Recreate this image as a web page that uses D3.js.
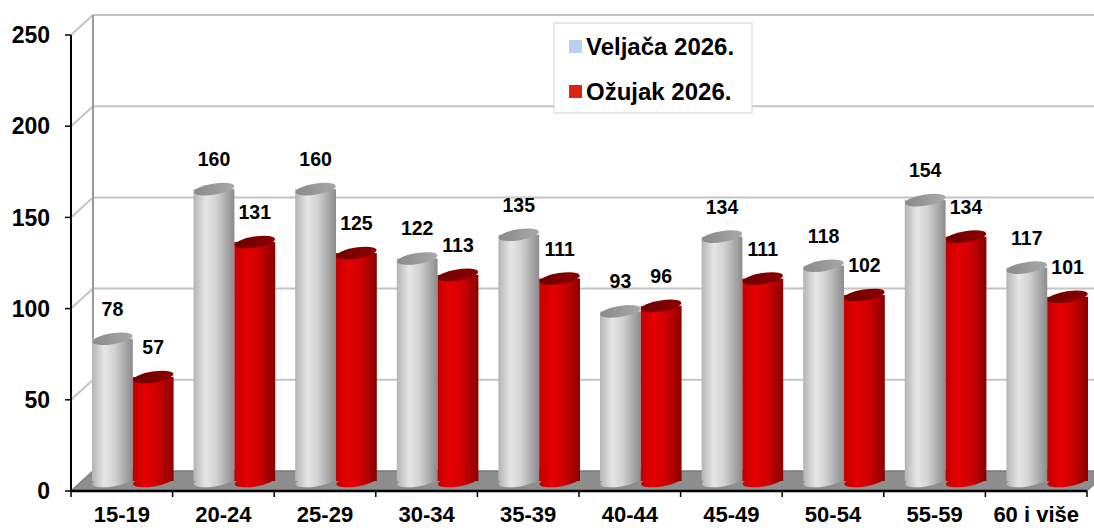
<!DOCTYPE html>
<html>
<head>
<meta charset="utf-8">
<script src="https://cdn.jsdelivr.net/npm/d3@7"></script>
<style>
  body { margin: 0; background: #fff; }
  svg text { font-family: "Liberation Sans", Arial, sans-serif; font-weight: bold; fill: #000; }
</style>
</head>
<body>
<div id="chart"></div>
<script>
// data
const categories = ["15-19","20-24","25-29","30-34","35-39","40-44","45-49","50-54","55-59","60 i više"];
const series = ["Veljača 2026.","Ožujak 2026."];
const veljaca = [78,160,160,122,135,93,134,118,154,117];
const ozujak  = [57,131,125,113,111,96,111,102,134,101];
const yTicks = [0,50,100,150,200,250];

const width = 1094, height = 528;
const depthX = 22, depthY = -20;   // 3d offset of back wall

const svg = d3.select("#chart").append("svg")
  .attr("width", width).attr("height", height);

const x = d3.scaleBand().domain(categories).range([71, 1087]).paddingInner(0).paddingOuter(0);
const xs = d3.scaleBand().domain(series).range([0, x.bandwidth()]).paddingInner(0).paddingOuter(0.245);
const y = d3.scaleLinear().domain([0, 250]).range([491, 35]);

// gradients
const defs = svg.append("defs");
function grad(id, stops) {
  const g = defs.append("linearGradient").attr("id", id).attr("x1", 0).attr("x2", 1).attr("y1", 0).attr("y2", 0);
  stops.forEach(s => g.append("stop").attr("offset", s[0]).attr("stop-color", s[1]));
}
grad("gBody", [[0,"#b4b4b4"],[0.3,"#e6e6e6"],[0.55,"#d2d2d2"],[1,"#8c8c8c"]]);
grad("rBody", [[0,"#c00000"],[0.3,"#e60000"],[0.6,"#d00000"],[1,"#8a0000"]]);
grad("gTop",  [[0,"#8a8a8a"],[1,"#a8a8a8"]]);
grad("rTop",  [[0,"#6e0000"],[1,"#8c0000"]]);

// back wall + gridlines
const wall = svg.append("g");
wall.append("rect")
  .attr("x", 71 + depthX).attr("y", y(250) + depthY)
  .attr("width", 1087 - 71).attr("height", y(0) - y(250))
  .attr("fill", "#fff");

yTicks.forEach(t => {
  // back wall line
  wall.append("line")
    .attr("x1", 71 + depthX).attr("x2", 1087 + depthX)
    .attr("y1", y(t) + depthY).attr("y2", y(t) + depthY)
    .attr("stroke", "#c4c4c4").attr("stroke-width", 2);
  // side wall line
  wall.append("line")
    .attr("x1", 71).attr("x2", 71 + depthX)
    .attr("y1", y(t)).attr("y2", y(t) + depthY)
    .attr("stroke", "#c4c4c4").attr("stroke-width", 2);
});
wall.append("line")
  .attr("x1", 71 + depthX).attr("x2", 71 + depthX)
  .attr("y1", y(250) + depthY).attr("y2", y(0) + depthY)
  .attr("stroke", "#9a9a9a").attr("stroke-width", 2);

// floor
wall.append("path")
  .attr("d", `M71,${y(0)} L1087,${y(0)} L${1087 + depthX},${y(0) + depthY} L${71 + depthX},${y(0) + depthY} Z`)
  .attr("fill", "#8e8e8e").attr("stroke", "#6e6e6e").attr("stroke-width", 1);

// cylinders
const rx = xs.bandwidth() / 2, ry = 5.5, tilt = -9;
const midX = depthX / 2, midY = depthY / 2;
const rows = categories.map((c, i) => ({ cat: c, vals: [veljaca[i], ozujak[i]] }));

const groups = svg.append("g").selectAll("g").data(rows).join("g");

groups.each(function(d) {
  const g = d3.select(this);
  d.vals.forEach((v, si) => {
    const cx = x(d.cat) + xs(series[si]) + rx + midX;
    const base = y(0) + midY;
    const top = y(v) + midY;
    const body = si === 0 ? "url(#gBody)" : "url(#rBody)";
    const cap = si === 0 ? "url(#gTop)" : "url(#rTop)";
    g.append("ellipse")
      .attr("cx", cx).attr("cy", base).attr("rx", rx).attr("ry", ry)
      .attr("transform", `rotate(${tilt},${cx},${base})`)
      .attr("fill", body);
    g.append("rect")
      .attr("x", cx - rx).attr("y", top).attr("width", rx * 2).attr("height", base - top)
      .attr("fill", body);
    g.append("ellipse")
      .attr("cx", cx).attr("cy", top).attr("rx", rx).attr("ry", ry)
      .attr("transform", `rotate(${tilt},${cx},${top})`)
      .attr("fill", cap);
    g.append("text")
      .attr("x", cx).attr("y", top - 23)
      .attr("text-anchor", "middle")
      .attr("font-size", 19.5)
      .text(v);
  });
});

// axes
const yAxis = svg.append("g");
yAxis.append("line").attr("x1", 71).attr("x2", 71).attr("y1", y(250)).attr("y2", y(0))
  .attr("stroke", "#000").attr("stroke-width", 2);
yTicks.forEach(t => {
  yAxis.append("line").attr("x1", 65).attr("x2", 71).attr("y1", y(t)).attr("y2", y(t))
    .attr("stroke", "#000").attr("stroke-width", 1.5);
  yAxis.append("text").attr("x", 50).attr("y", y(t)).attr("dy", "0.36em")
    .attr("text-anchor", "end").attr("font-size", 23).text(t);
});

const xAxis = svg.append("g");
xAxis.append("line").attr("x1", 71).attr("x2", 1087).attr("y1", y(0)).attr("y2", y(0))
  .attr("stroke", "#000").attr("stroke-width", 2.5);
categories.forEach((c, i) => {
  const bx = x(c);
  xAxis.append("line").attr("x1", bx).attr("x2", bx).attr("y1", y(0)).attr("y2", y(0) + 6)
    .attr("stroke", "#000").attr("stroke-width", 1.5);
  xAxis.append("text").attr("x", bx + x.bandwidth() / 2).attr("y", 522)
    .attr("text-anchor", "middle").attr("font-size", 22).text(c);
});
xAxis.append("line").attr("x1", 1087).attr("x2", 1087).attr("y1", y(0)).attr("y2", y(0) + 6)
  .attr("stroke", "#000").attr("stroke-width", 1.5);

// legend
const legendColors = ["#b9d1ee", "#dc2418"];
const legend = svg.append("g");
legend.append("rect").attr("x", 554).attr("y", 23).attr("width", 198).attr("height", 90)
  .attr("fill", "#fff").attr("stroke", "#d4d4d4");
series.forEach((s, i) => {
  const ly = 46 + i * 45;
  legend.append("rect").attr("x", 569).attr("y", ly - 6).attr("width", 13).attr("height", 13)
    .attr("fill", legendColors[i]);
  legend.append("text").attr("x", 586).attr("y", ly).attr("dy", "0.36em")
    .attr("font-size", 24).text(s);
});
</script>
</body>
</html>
